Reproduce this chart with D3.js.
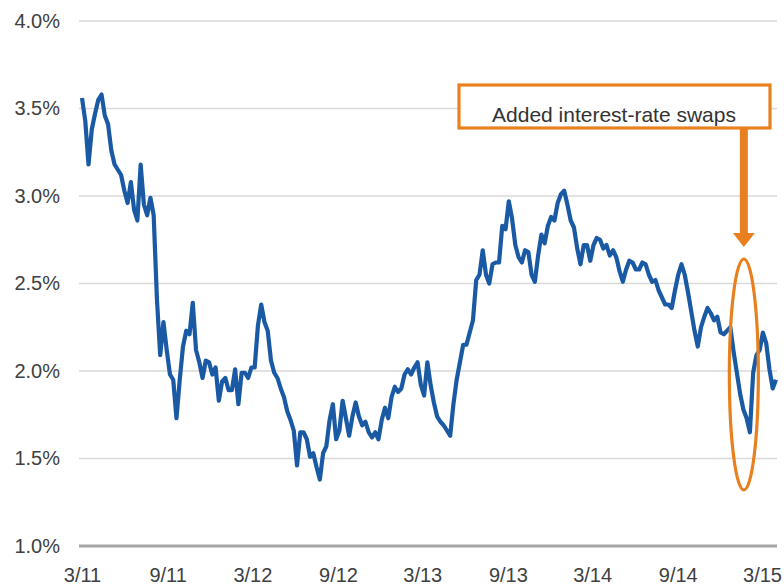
<!DOCTYPE html>
<html>
<head>
<meta charset="utf-8">
<script src="https://cdn.jsdelivr.net/npm/d3@7"></script>
<style>
  body { margin: 0; background: #fff; }
  svg { display: block; font-family: "Liberation Sans", Arial, sans-serif; }
</style>
</head>
<body>
<svg width="784" height="587"></svg>
<script>
// weekly yield readings, first week starting 3/1/2011
var startDate = "2011-03-01";
var yields = [
  3.56, 3.43, 3.18, 3.38, 3.47, 3.55, 3.58, 3.46, 3.41, 3.26,
  3.18, 3.15, 3.12, 3.03, 2.96, 3.08, 2.92, 2.86, 3.18, 2.95,
  2.89, 2.99, 2.89, 2.41, 2.09, 2.28, 2.12, 1.98, 1.95, 1.73,
  1.95, 2.14, 2.23, 2.21, 2.39, 2.12, 2.05, 1.96, 2.06, 2.05,
  1.98, 2.02, 1.83, 1.94, 1.96, 1.89, 1.89, 2.01, 1.81, 1.99,
  1.99, 1.96, 2.02, 2.02, 2.26, 2.38, 2.28, 2.23, 2.06, 1.99,
  1.96, 1.90, 1.85, 1.77, 1.72, 1.66, 1.46, 1.65, 1.65, 1.61,
  1.51, 1.53, 1.45, 1.38, 1.53, 1.57, 1.72, 1.81, 1.61, 1.66,
  1.83, 1.73, 1.63, 1.74, 1.82, 1.74, 1.69, 1.71, 1.65, 1.62,
  1.65, 1.61, 1.72, 1.79, 1.73, 1.85, 1.91, 1.88, 1.90, 1.98,
  2.01, 1.98, 2.02, 2.05, 1.92, 1.86, 2.05, 1.92, 1.82, 1.74,
  1.71, 1.69, 1.66, 1.63, 1.81, 1.95, 2.05, 2.15, 2.15, 2.22,
  2.29, 2.52, 2.55, 2.69, 2.55, 2.50, 2.61, 2.62, 2.62, 2.83,
  2.81, 2.97, 2.87, 2.72, 2.65, 2.62, 2.69, 2.68, 2.55, 2.51,
  2.66, 2.78, 2.73, 2.83, 2.88, 2.86, 2.96, 3.01, 3.03, 2.95,
  2.86, 2.82, 2.70, 2.61, 2.72, 2.72, 2.63, 2.72, 2.76, 2.75,
  2.70, 2.72, 2.66, 2.69, 2.65, 2.57, 2.51, 2.58, 2.63, 2.62,
  2.58, 2.58, 2.62, 2.61, 2.55, 2.51, 2.52, 2.46, 2.42, 2.38,
  2.38, 2.36, 2.46, 2.55, 2.61, 2.55, 2.45, 2.34, 2.23, 2.14,
  2.25, 2.31, 2.36, 2.33, 2.29, 2.31, 2.22, 2.21, 2.23, 2.25,
  2.11, 1.99, 1.87, 1.78, 1.73, 1.65, 1.99, 2.09, 2.12, 2.22,
  2.16, 2.01, 1.90, 1.95
];
var xTicks = ["2011-03-01", "2011-09-01", "2012-03-01", "2012-09-01", "2013-03-01",
              "2013-09-01", "2014-03-01", "2014-09-01", "2015-03-01"];
var yTicks = [1.0, 1.5, 2.0, 2.5, 3.0, 3.5, 4.0];
var noteText = "Added interest-rate swaps";
var noteDate = "2015-01-21";
var ovalRange = [1.32, 2.64];

var parse = d3.timeParse("%Y-%m-%d");
var start = parse(startDate);
var data = yields.map(function(v, i) {
    return { date: d3.timeDay.offset(start, i * 7), value: v };
});

var svg = d3.select("svg");

var x = d3.scaleTime()
    .domain([parse(xTicks[0]), parse(xTicks[xTicks.length - 1])])
    .range([82, 762]);

var y = d3.scaleLinear()
    .domain([1, 4])
    .range([546, 21]);

// gridlines
svg.selectAll(".grid")
    .data(yTicks)
    .enter().append("line")
    .attr("x1", 79)
    .attr("x2", 777)
    .attr("y1", function(d) { return y(d); })
    .attr("y2", function(d) { return y(d); })
    .attr("stroke", function(d) { return d === 1 ? "#a6a6a6" : "#d9d9d9"; })
    .attr("stroke-width", function(d) { return d === 1 ? 3 : 1.6; });

// y axis labels
var yAxis = d3.axisLeft(y)
    .tickValues(yTicks)
    .tickFormat(function(d) { return d.toFixed(1) + "%"; })
    .tickSize(0)
    .tickPadding(0);

svg.append("g")
    .attr("transform", "translate(60,0)")
    .call(yAxis)
    .call(function(g) { g.select(".domain").remove(); })
    .selectAll("text")
    .attr("font-size", 20)
    .attr("font-family", "Liberation Sans, Arial, sans-serif")
    .attr("fill", "#404040");

// x axis labels
var xAxis = d3.axisBottom(x)
    .tickValues(xTicks.map(parse))
    .tickFormat(d3.timeFormat("%-m/%y"))
    .tickSize(0)
    .tickPadding(0);

svg.append("g")
    .attr("transform", "translate(0,568)")
    .call(xAxis)
    .call(function(g) { g.select(".domain").remove(); })
    .selectAll("text")
    .attr("dy", "0.72em")
    .attr("font-size", 20)
    .attr("font-family", "Liberation Sans, Arial, sans-serif")
    .attr("fill", "#404040");

// the series
var line = d3.line()
    .x(function(d) { return x(d.date); })
    .y(function(d) { return y(d.value); });

svg.append("path")
    .datum(data)
    .attr("fill", "none")
    .attr("stroke", "#1a5aa5")
    .attr("stroke-width", 4.2)
    .attr("stroke-linejoin", "round")
    .attr("d", line);

// annotation
var orange = "#e8801f";
var nx = x(parse(noteDate));

svg.append("rect")
    .attr("x", 459)
    .attr("y", 85)
    .attr("width", 311)
    .attr("height", 43)
    .attr("fill", "#fff")
    .attr("stroke", orange)
    .attr("stroke-width", 3.2);

svg.append("text")
    .attr("x", 614)
    .attr("y", 122)
    .attr("text-anchor", "middle")
    .attr("font-size", 21)
    .attr("fill", "#333")
    .text(noteText);

svg.append("line")
    .attr("x1", nx)
    .attr("x2", nx)
    .attr("y1", 128)
    .attr("y2", 235)
    .attr("stroke", orange)
    .attr("stroke-width", 8);

svg.append("path")
    .attr("d", "M" + (nx - 11) + ",233L" + (nx + 11) + ",233L" + nx + ",247Z")
    .attr("fill", orange);

svg.append("ellipse")
    .attr("cx", nx)
    .attr("cy", (y(ovalRange[0]) + y(ovalRange[1])) / 2)
    .attr("rx", 14.5)
    .attr("ry", (y(ovalRange[0]) - y(ovalRange[1])) / 2)
    .attr("fill", "none")
    .attr("stroke", orange)
    .attr("stroke-width", 3.2);
</script>
</body>
</html>
